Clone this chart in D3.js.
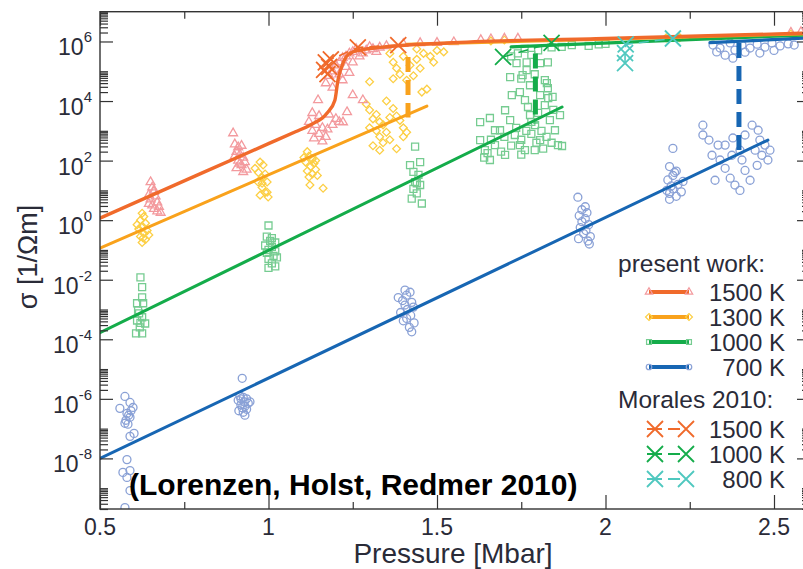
<!DOCTYPE html>
<html><head><meta charset="utf-8">
<script src="https://cdn.jsdelivr.net/npm/d3@7"></script>
<style>
html,body{margin:0;padding:0;background:#fff;}
svg{display:block;font-family:"Liberation Sans",Arial,Helvetica,sans-serif;}
</style></head>
<body>
<svg id="chart" width="803" height="569"></svg>
<script>
// ---------- DATA ----------
const xTickValues = [0.5, 1, 1.5, 2, 2.5];
const xTickLabels = ["0.5", "1", "1.5", "2", "2.5"];
const xMinorValues = [0.75, 1.25, 1.75, 2.25];
const yTickExponents = [-8, -6, -4, -2, 0, 2, 4, 6];

// simulation points, [pressure Mbar, log10 sigma]
const pts1500 = [
 [0.65,1.28],[0.655,1.1],[0.66,0.95],[0.645,0.85],[0.665,0.8],[0.65,0.7],[0.67,0.6],[0.655,0.5],[0.675,0.45],[0.66,0.38],[0.67,0.3],[0.68,0.25],[0.66,1.0],[0.645,0.55],
 [0.895,2.92],[0.9,2.55],[0.91,2.45],[0.92,2.5],[0.905,2.3],[0.915,2.2],[0.925,2.1],[0.91,2.0],[0.93,1.95],[0.92,1.85],[0.905,1.75],[0.935,1.7],[0.925,1.62],[0.915,1.9],[0.9,2.15],
 [1.147,4.03],[1.13,3.6],[1.15,3.5],[1.12,3.3],[1.14,3.2],[1.16,3.1],[1.13,3.0],[1.15,2.9],[1.17,2.8],[1.135,2.75],[1.16,2.65],[1.18,3.55],[1.2,3.4],[1.21,3.3],[1.19,3.2],[1.221,3.29],[1.233,3.63],[1.175,3.05],
 [1.17,4.6],[1.18,4.85],[1.19,5.0],[1.2,5.2],[1.21,5.3],[1.22,5.45],[1.23,5.5],[1.24,5.6],[1.25,5.65],[1.21,4.9],[1.23,5.15],[1.25,5.3],[1.27,5.5],[1.29,5.7],[1.31,5.75],[1.33,5.8],[1.35,5.85],[1.28,4.03],[1.25,4.2],[1.19,4.45],[1.22,4.7],[1.24,4.95],[1.28,5.6],[1.32,5.65],[1.26,5.75],[1.3,5.82],
 [1.4,5.92],[1.45,5.95],[1.5,5.96],[1.55,5.98],[1.63,6.05],[1.66,6.08],[1.7,6.1],[1.74,6.1],[2.55,6.3],[2.58,6.32]
];
const pts1300 = [
 [0.625,0.23],[0.63,0.12],[0.62,0.0],[0.635,-0.1],[0.625,-0.2],[0.615,-0.3],[0.64,-0.35],[0.63,-0.45],[0.62,-0.55],[0.635,-0.65],[0.625,-0.75],[0.645,-0.5],[0.61,-0.15],[0.628,-0.6],
 [0.975,1.95],[0.96,1.74],[0.984,1.85],[0.981,1.44],[0.969,1.28],[0.996,1.28],[0.981,1.1],[0.99,0.94],[0.975,0.84],[0.999,0.78],[0.981,1.24],[0.996,0.94],[0.97,1.6],[0.99,1.55],
 [1.123,1.18],[1.162,1.07],
 [1.115,2.3],[1.12,2.15],[1.13,2.05],[1.11,1.95],[1.135,1.9],[1.125,1.8],[1.14,1.7],[1.115,1.65],[1.13,1.55],[1.145,1.5],[1.12,1.45],[1.14,2.0],[1.105,2.1],
 [1.29,3.9],[1.3,3.7],[1.32,3.55],[1.31,3.4],[1.33,3.3],[1.34,3.2],[1.3,3.1],[1.32,3.0],[1.35,2.95],[1.33,2.8],[1.36,2.7],[1.34,2.6],[1.31,2.5],[1.37,3.75],[1.38,3.5],[1.39,3.35],[1.36,3.45],[1.4,3.1],[1.41,2.95],[1.4,2.8],[1.35,4.0],[1.33,2.35],[1.38,2.4],
 [1.36,5.6],[1.37,5.3],[1.38,5.1],[1.39,4.9],[1.37,4.75],[1.4,5.5],[1.42,5.2],[1.44,5.4],[1.46,5.6],[1.48,5.5],[1.45,5.1],[1.43,4.85],[1.47,4.4],[1.41,4.7],[1.5,5.7],[1.52,5.65],[1.49,5.3],[1.3,4.65],[1.44,5.75],[1.455,4.3],
 [1.66,6.02],[1.7,6.05],[2.18,6.12],[2.22,6.13],[2.55,6.25]
];
const pts1000 = [
 [0.62,-1.92],[0.625,-2.25],[0.625,-2.59],[0.61,-2.79],[0.628,-2.79],[0.613,-3.03],[0.616,-3.13],[0.625,-3.26],[0.634,-3.47],[0.61,-3.37],[0.618,-3.6],[0.607,-3.8],[0.625,-3.8],[0.62,-3.45],
 [1.0,-0.18],[0.995,-0.55],[1.01,-0.6],[1.005,-0.7],[1.02,-0.75],[0.99,-0.85],[1.01,-0.9],[1.0,-1.0],[1.02,-1.05],[0.995,-1.1],[1.015,-1.2],[1.0,-1.3],[1.025,-1.25],[1.01,-1.45],[1.0,-1.6],[1.02,-1.55],
 [1.435,2.47],[1.42,1.85],[1.45,1.95],[1.43,1.62],[1.445,1.52],[1.435,1.28],[1.45,1.18],[1.44,1.24],[1.44,0.9],[1.455,0.56],[1.425,0.72],[1.43,1.05],
 [1.628,3.29],[1.628,2.69],[1.642,2.35],[1.657,2.02],[1.672,2.52],[1.687,3.02],[1.702,3.69],[1.717,3.36],[1.731,2.86],[1.746,2.52],[1.761,4.03],[1.776,3.53],[1.791,3.19],[1.806,4.2],[1.82,3.86],[1.835,3.36],[1.85,3.02],[1.859,2.52],[1.806,2.69],[1.761,2.35],[1.702,2.19],[1.672,3.02],[1.722,4.2],[1.746,4.3],[1.829,4.43],[1.82,4.7],[1.776,4.53],[1.865,3.53],[1.871,2.49],[1.657,3.43],
 [1.7,2.8],[1.735,3.1],[1.75,2.7],[1.765,3.0],[1.78,2.9],[1.795,2.6],[1.81,3.0],[1.825,2.8],[1.84,2.6],[1.72,2.5],[1.69,2.3],[1.66,2.7],[1.78,3.3],[1.8,3.6],[1.77,3.8],[1.83,4.1],[1.845,3.7],[1.65,2.25],[1.64,2.1],[1.75,2.2],[1.815,2.4],[1.79,2.35],
 [1.736,5.27],[1.766,5.3],[1.766,5.04],[1.754,4.87],[1.806,5.27],[1.829,5.3],[1.826,4.6],[1.843,4.14],[1.74,5.6],[1.78,5.55],[1.72,5.5],[1.8,5.7],[1.76,5.75],[1.84,5.8],[1.717,4.8],[1.79,4.9],[1.75,4.75],
 [1.87,5.82],[1.9,5.88],[1.95,5.85],[1.98,5.9],[2.0,5.92]
];
const pts700 = [
 [0.574,-5.92],[0.559,-6.32],[0.589,-6.12],[0.598,-6.29],[0.58,-6.49],[0.577,-6.72],[0.589,-6.62],[0.574,-6.82],[0.589,-7.26],[0.601,-7.16],[0.58,-8.04],[0.568,-8.47],[0.589,-8.41],[0.58,-8.64],[0.589,-9.08],[0.574,-9.65],[0.585,-6.55],[0.592,-6.4],[0.583,-6.85],
 [0.922,-5.31],[0.915,-5.9],[0.925,-5.95],[0.935,-6.0],[0.91,-6.05],[0.928,-6.1],[0.94,-6.15],[0.918,-6.2],[0.93,-6.25],[0.922,-6.3],[0.935,-6.35],[0.912,-6.4],[0.925,-6.45],[0.918,-6.0],[0.945,-6.1],[0.93,-6.55],
 [1.405,-2.35],[1.42,-2.42],[1.41,-2.52],[1.385,-2.6],[1.398,-2.7],[1.425,-2.76],[1.405,-2.85],[1.43,-2.92],[1.412,-3.0],[1.392,-3.1],[1.422,-3.2],[1.41,-3.3],[1.432,-3.45],[1.418,-3.6],[1.425,-3.75],[1.4,-3.38],
 [1.918,0.77],[1.93,0.35],[1.945,0.25],[1.922,0.15],[1.94,0.05],[1.93,-0.05],[1.95,-0.15],[1.925,-0.25],[1.942,-0.35],[1.935,-0.45],[1.955,-0.55],[1.92,-0.62],[1.948,-0.7],[1.952,-0.8],[1.94,0.45],
 [2.2,2.41],[2.19,1.8],[2.21,1.65],[2.2,1.5],[2.185,1.35],[2.215,1.2],[2.2,1.05],[2.19,0.9],[2.21,0.8],[2.205,1.6],[2.225,0.95],[2.195,1.15],[2.182,1.0],[2.19,0.7],[2.23,1.3],
 [2.289,3.19],[2.289,2.86],[2.307,2.69],[2.334,2.52],[2.378,2.76],[2.316,2.18],[2.34,2.02],[2.355,1.74],[2.325,1.34],[2.37,1.41],[2.414,1.67],[2.444,2.35],[2.453,3.02],[2.435,3.19],[2.458,2.69],[2.473,2.52],[2.464,2.18],[2.45,1.84],[2.414,2.86],[2.399,2.35],[2.405,2.02],[2.384,1.18],[2.375,2.18],[2.355,2.52],[2.482,2.02],[2.429,1.34],[2.399,1.0],[2.488,2.35],
 [2.319,5.88],[2.34,5.78],[2.37,5.95],[2.384,5.71],[2.405,5.88],[2.429,5.78],[2.45,5.91],[2.473,5.81],[2.494,5.95],[2.518,5.85],[2.355,5.54],[2.414,5.64],[2.458,5.61],[2.542,5.92],[2.56,5.88],[2.378,5.44],[2.33,5.65],[2.5,5.7]
];

// fitted lines [pressure, log10 sigma]
const fit1500 = [[0.5,0.07],[0.8,1.57],[1.0,2.57],[1.08,2.97],[1.123,3.19],[1.174,3.6],[1.197,4.03],[1.206,4.7],[1.221,5.27],[1.242,5.61],[1.272,5.71],[1.331,5.8],[1.53,5.95],[2.0,6.1],[2.6,6.28]];
const fit1300 = [[0.5,-0.94],[1.47,3.83]];
const fit1300high = [[1.41,5.9],[2.6,6.26]];
const fit1000 = [[0.5,-3.78],[1.871,3.8]];
const fit1000high = [[1.72,5.82],[2.6,6.22]];
const fit700 = [[0.5,-8.0],[2.482,2.69]];
const fit700high = [[2.31,5.96],[2.6,6.12]];

// transition markers (dashed verticals) [pressure, log low, log high]
const jump1300 = [1.414, 3.45, 5.48];
const jump1000 = [1.792, 3.25, 5.6];
const jump700 = [2.396, 2.1, 5.95];

// Morales 2010
const mor1500 = [[1.175,4.9],[1.165,5.05],[1.18,5.15],[1.17,5.3],[1.185,5.4],[1.265,5.8],[1.385,5.88]];
const mor1000 = [[1.696,5.48],[1.84,5.95]];
const mor800 = [[2.058,5.27],[2.058,5.61],[2.06,5.9],[2.2,6.1]];

const legendPresent = ["1500 K", "1300 K", "1000 K", "700 K"];
const legendMorales = ["1500 K", "1000 K", "800 K"];

// ---------- CHART ----------
const svg = d3.select("#chart");
const L = 100, R = 807.7, T = 11.7, B = 509, RA = 810;
const x = d3.scaleLinear().domain([0.5, 2.6]).range([L, R]);
const y = d3.scaleLog().domain([2e-10, 1e7]).range([B, T]);
const px = d => x(d[0]);
const py = d => y(Math.pow(10, d[1]));

const C = {
  l1500: "#f06a2b", m1500: "#f39a9e",
  l1300: "#f9a21c", m1300: "#fccf45",
  l1000: "#14ac4a", m1000: "#76cc91",
  l700: "#1766b3", m700: "#8aa1d6",
  mor800: "#4fc8bf"
};

svg.append("defs").append("clipPath").attr("id", "clip")
  .append("rect").attr("x", L).attr("y", T).attr("width", RA - L).attr("height", B - T);

const plot = svg.append("g").attr("clip-path", "url(#clip)");

function scatter(data, type, color, size, rot) {
  const sym = d3.symbol().type(type).size(size);
  plot.append("g").selectAll("path").data(data).join("path")
    .attr("d", sym)
    .attr("transform", d => `translate(${px(d)},${py(d)})` + (rot ? " rotate(45)" : ""))
    .attr("fill", "none").attr("stroke", color).attr("stroke-width", 1.3);
}
scatter(pts700, d3.symbolCircle, C.m700, 50);
scatter(pts1000, d3.symbolSquare, C.m1000, 49);
scatter(pts1300, d3.symbolSquare, C.m1300, 30, true);
scatter(pts1500, d3.symbolTriangle, C.m1500, 34);

const line = d3.line().x(px).y(py);
const curve = d3.line().x(px).y(py).curve(d3.curveMonotoneX);
function drawLine(data, color, w, gen) {
  plot.append("path").datum(data).attr("d", (gen || line))
    .attr("fill", "none").attr("stroke", color).attr("stroke-width", w).attr("stroke-linecap", "round");
}
drawLine(fit700, C.l700, 3);
drawLine(fit1000, C.l1000, 3);
drawLine(fit1300, C.l1300, 3);
drawLine(fit700high, C.l700, 3.2);
drawLine(fit1000high, C.l1000, 3.2);
drawLine(fit1300high, C.l1300, 3.2);
drawLine(fit1500, C.l1500, 3.4, curve);

function jump(j, color) {
  plot.append("line")
    .attr("x1", x(j[0])).attr("x2", x(j[0]))
    .attr("y1", y(Math.pow(10, j[2]))).attr("y2", y(Math.pow(10, j[1])))
    .attr("stroke", color).attr("stroke-width", 5).attr("stroke-dasharray", "15,8");
}
jump(jump1300, C.l1300);
jump(jump1000, C.l1000);
jump(jump700, C.l700);

function cross(g, cx, cy, s, color, w) {
  g.append("path").attr("d", `M${cx - s},${cy - s}L${cx + s},${cy + s}M${cx - s},${cy + s}L${cx + s},${cy - s}`)
    .attr("stroke", color).attr("stroke-width", w).attr("fill", "none");
}
function morales(data, color) {
  plot.append("path").datum(data).attr("d", line).attr("fill", "none")
    .attr("stroke", color).attr("stroke-width", 1.6).attr("stroke-dasharray", "10,6");
  data.forEach(d => cross(plot, px(d), py(d), 8, color, 1.8));
}
morales(mor1500, C.l1500);
morales(mor1000, C.l1000);
morales(mor800, C.mor800);

// ---------- AXES ----------
const axisColor = "#333";
function styleAxis(g) {
  g.select(".domain").remove();
  g.selectAll(".tick line").attr("stroke", axisColor).attr("stroke-width", 1.2);
  g.selectAll(".tick text").remove();
}
const yMajor = yTickExponents.map(e => Math.pow(10, e));
const yMinor = [];
for (let n = -10; n <= 6; n += 2) for (let k = 2; k <= 10; k++) {
  const v = k * Math.pow(10, n);
  if (v >= 2e-10 && v <= 1e7) yMinor.push(v);
}
svg.append("g").attr("transform", `translate(0,${B})`).call(d3.axisBottom(x).tickValues(xTickValues).tickSize(-14)).call(styleAxis);
svg.append("g").attr("transform", `translate(0,${B})`).call(d3.axisBottom(x).tickValues(xMinorValues).tickSize(-7)).call(styleAxis);
svg.append("g").attr("transform", `translate(0,${T})`).call(d3.axisTop(x).tickValues(xTickValues).tickSize(-14)).call(styleAxis);
svg.append("g").attr("transform", `translate(0,${T})`).call(d3.axisTop(x).tickValues(xMinorValues).tickSize(-7)).call(styleAxis);
svg.append("g").attr("transform", `translate(${L},0)`).call(d3.axisLeft(y).tickValues(yMajor).tickSize(-13)).call(styleAxis);
svg.append("g").attr("transform", `translate(${L},0)`).call(d3.axisLeft(y).tickValues(yMinor).tickSize(-8)).call(styleAxis);
svg.append("g").attr("transform", `translate(${RA},0)`).call(d3.axisRight(y).tickValues(yMajor).tickSize(-13)).call(styleAxis);
svg.append("g").attr("transform", `translate(${RA},0)`).call(d3.axisRight(y).tickValues(yMinor).tickSize(-8)).call(styleAxis);

svg.append("rect").attr("x", L).attr("y", T).attr("width", RA - L).attr("height", B - T)
  .attr("fill", "none").attr("stroke", axisColor).attr("stroke-width", 1.4);

const labColor = "#2a2b38";
svg.append("g").selectAll("text").data(xTickValues).join("text")
  .attr("x", d => x(d)).attr("y", 535).attr("text-anchor", "middle")
  .attr("font-size", 23).attr("fill", labColor)
  .text((d, i) => xTickLabels[i]);

const yl = svg.append("g").selectAll("text").data(yTickExponents).join("text")
  .attr("x", 92).attr("y", e => y(Math.pow(10, e)) + 14).attr("text-anchor", "end")
  .attr("font-size", 23).attr("fill", labColor);
yl.append("tspan").text("10");
yl.append("tspan").attr("font-size", 15).attr("dy", -13).text(e => String(e));

svg.append("text").attr("x", 453).attr("y", 563).attr("text-anchor", "middle")
  .attr("font-size", 28).attr("fill", labColor).text("Pressure [Mbar]");
svg.append("text").attr("transform", "translate(37,257) rotate(-90)").attr("text-anchor", "middle")
  .attr("font-size", 27).attr("fill", labColor).text("σ [1/Ωm]");

svg.append("text").attr("x", 129).attr("y", 495).attr("font-size", 30).attr("font-weight", "bold")
  .attr("fill", "#000").text("(Lorenzen, Holst, Redmer 2010)");

// ---------- LEGEND ----------
const lg = svg.append("g");
lg.append("text").attr("x", 618).attr("y", 272).attr("font-size", 24.5).attr("fill", labColor).text("present work:");
const presentColors = [[C.l1500, C.m1500, d3.symbolTriangle, false], [C.l1300, C.m1300, d3.symbolSquare, true], [C.l1000, C.m1000, d3.symbolSquare, false], [C.l700, C.m700, d3.symbolCircle, false]];
legendPresent.forEach((t, i) => {
  const cy = 292 + i * 25;
  lg.append("line").attr("x1", 649).attr("x2", 689).attr("y1", cy).attr("y2", cy)
    .attr("stroke", presentColors[i][0]).attr("stroke-width", 4);
  [649, 689].forEach(cx => lg.append("path").attr("d", d3.symbol().type(presentColors[i][2]).size(24))
    .attr("transform", `translate(${cx},${cy})` + (presentColors[i][3] ? " rotate(45)" : ""))
    .attr("fill", "none").attr("stroke", presentColors[i][1]).attr("stroke-width", 1.2));
  lg.append("text").attr("x", 785).attr("y", cy + 8.5).attr("text-anchor", "end")
    .attr("font-size", 24).attr("fill", labColor).text(t);
});
lg.append("text").attr("x", 618).attr("y", 408).attr("font-size", 24.5).attr("fill", labColor).text("Morales 2010:");
const morColors = [C.l1500, C.l1000, C.mor800];
legendMorales.forEach((t, i) => {
  const cy = 429 + i * 25;
  lg.append("line").attr("x1", 647).attr("x2", 688).attr("y1", cy).attr("y2", cy)
    .attr("stroke", morColors[i]).attr("stroke-width", 1.8).attr("stroke-dasharray", "15,6,12,30");
  cross(lg, 655, cy, 8, morColors[i], 1.8);
  cross(lg, 686, cy, 8, morColors[i], 1.8);
  lg.append("text").attr("x", 785).attr("y", cy + 8.5).attr("text-anchor", "end")
    .attr("font-size", 24).attr("fill", labColor).text(t);
});
</script>
</body></html>
